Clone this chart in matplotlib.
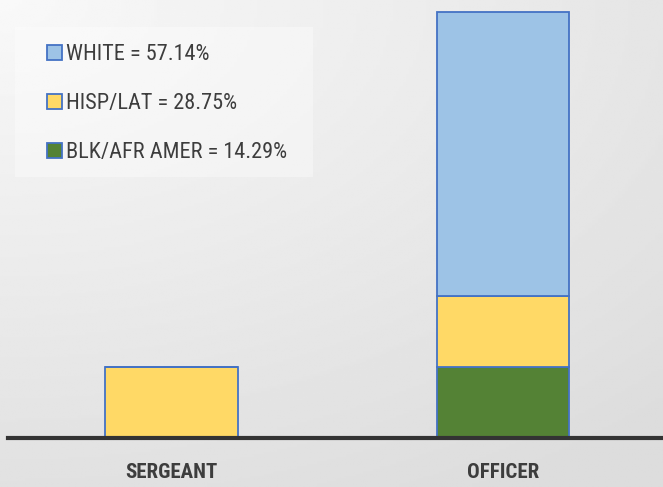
import numpy as np
import matplotlib.pyplot as plt
from matplotlib.patches import Patch, Rectangle

# headcount by rank and group
ranks = ["SERGEANT", "OFFICER"]
blk_afr = [0, 1]
hisp_lat = [1, 1]
white = [0, 4]
legend_labels = ["WHITE = 57.14%", "HISP/LAT = 28.75%", "BLK/AFR AMER = 14.29%"]

c_white = "#9dc3e6"
c_hisp = "#ffd966"
c_blk = "#548235"
c_edge = "#4472c4"
narrow = ["Roboto Condensed", "Liberation Sans Narrow", "DejaVu Sans"]

fig = plt.figure(figsize=(6.63, 4.87), dpi=100)

# soft grey backdrop, lighter toward the top left
bg = fig.add_axes([0, 0, 1, 1], zorder=0)
yy, xx = np.mgrid[0:1:200j, 0:1:200j]
shade = 0.975 - 0.11 * np.clip(np.sqrt((xx * 0.9) ** 2 + (yy * 1.1) ** 2) / 1.3, 0, 1)
bg.imshow(shade, cmap="gray", vmin=0, vmax=1, extent=[0, 1, 0, 1],
          origin="upper", aspect="auto")
bg.add_patch(Rectangle((15 / 663, 1 - 177 / 487), 298 / 663, 150 / 487,
                       facecolor="white", alpha=0.35, edgecolor="none"))
bg.set_xlim(0, 1)
bg.set_ylim(0, 1)
bg.set_axis_off()

ax = fig.add_axes([8 / 663, 49 / 487, 1 - 8 / 663, 438 / 487], zorder=1)
ax.patch.set_alpha(0)
x = np.arange(len(ranks))
w = 0.40
b1 = np.array(blk_afr)
b2 = b1 + np.array(hisp_lat)
ax.bar(x, blk_afr, w, color=c_blk, edgecolor=c_edge, linewidth=1.3)
ax.bar(x, hisp_lat, w, bottom=b1, color=c_hisp, edgecolor=c_edge, linewidth=1.3)
ax.bar(x, white, w, bottom=b2, color=c_white, edgecolor=c_edge, linewidth=1.3)

ax.set_xlim(-0.493, 1.483)
ax.set_ylim(0, 438 / 71)
for s in ["top", "right", "left"]:
    ax.spines[s].set_visible(False)
ax.spines["bottom"].set_color("#333333")
ax.spines["bottom"].set_linewidth(3)
ax.set_yticks([])
ax.set_xticks(x)
ax.set_xticklabels(ranks, family=narrow, fontstretch="condensed", fontsize=15,
                   fontweight="bold", color="#3d3d3d")
ax.tick_params(axis="x", length=0, pad=18)

handles = [Patch(facecolor=c, edgecolor=c_edge, linewidth=1.3)
           for c in (c_white, c_hisp, c_blk)]
leg = fig.legend(handles, legend_labels, loc="upper left",
                 bbox_to_anchor=(47 / 663, 1 - 44 / 487),
                 prop={"family": narrow, "size": 16, "stretch": "condensed"},
                 handlelength=0.66, handleheight=0.66, handletextpad=0.18,
                 labelspacing=1.27, borderpad=0, borderaxespad=0,
                 frameon=False)
for t in leg.get_texts():
    t.set_color("#3d3d3d")

fig.savefig("out.png", dpi=100)
